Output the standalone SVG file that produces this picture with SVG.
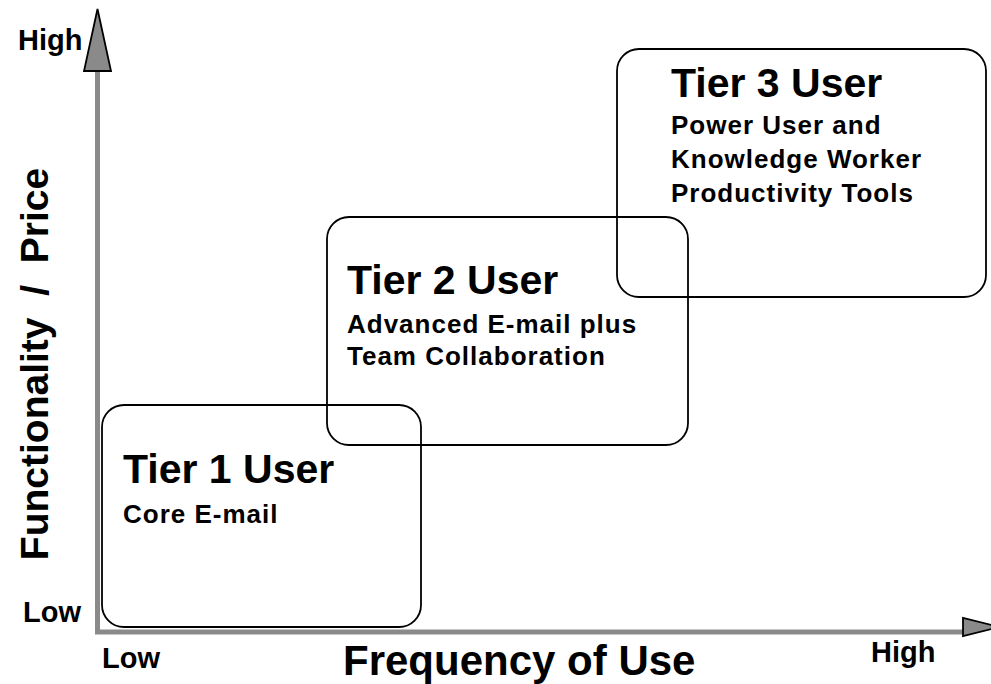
<svg xmlns="http://www.w3.org/2000/svg" width="991" height="684" viewBox="0 0 991 684">
<style>
text{font-family:"Liberation Sans",Arial,sans-serif;font-weight:bold;fill:#000}
.box{fill:none;stroke:#000;stroke-width:1.8}
.axis{stroke:#8a8a8a;stroke-width:5;fill:none}
.head{fill:#8a8a8a;stroke:#000;stroke-width:1.8;stroke-linejoin:miter}
.t{font-size:41px}
.s{font-size:26px;letter-spacing:1px}
.lab{font-size:29px}
.big{font-size:42px}
.ytitle{font-size:39px;white-space:pre}
</style>
<rect width="991" height="684" fill="#fff"/>
<g id="connectors">
<path class="axis" d="M97.5,71 V632 H963"/>
<polygon class="head" points="97.5,9 84,71 111,71"/>
<polygon class="head" points="963,618 963,636 1000,627"/>
</g>
<g id="axis-labels">
<text class="lab" x="18" y="50">High</text>
<text class="lab" x="23" y="622">Low</text>
<text class="lab" x="102" y="668">Low</text>
<text class="lab" x="871" y="662">High</text>
<text class="big" x="343" y="675">Frequency of Use</text>
<text class="ytitle" xml:space="preserve" text-anchor="middle" transform="translate(48,364) rotate(-90)">Functionality  /  Price</text>
</g>
<g id="tier1">
<rect class="box" x="102" y="405" width="319" height="222" rx="22"/>
<text class="t" x="123" y="483">Tier 1 User</text>
<text class="s" x="123" y="523">Core E-mail</text>
</g>
<g id="tier2">
<rect class="box" x="327" y="217" width="361" height="228" rx="22"/>
<text class="t" x="347" y="294">Tier 2 User</text>
<text class="s" x="347" y="333">Advanced E-mail plus</text>
<text class="s" x="347" y="365">Team Collaboration</text>
</g>
<g id="tier3">
<rect class="box" x="617" y="49" width="369" height="248" rx="22"/>
<text class="t" x="671" y="97">Tier 3 User</text>
<text class="s" x="671" y="134">Power User and</text>
<text class="s" x="671" y="168">Knowledge Worker</text>
<text class="s" x="671" y="202">Productivity Tools</text>
</g>
</svg>
